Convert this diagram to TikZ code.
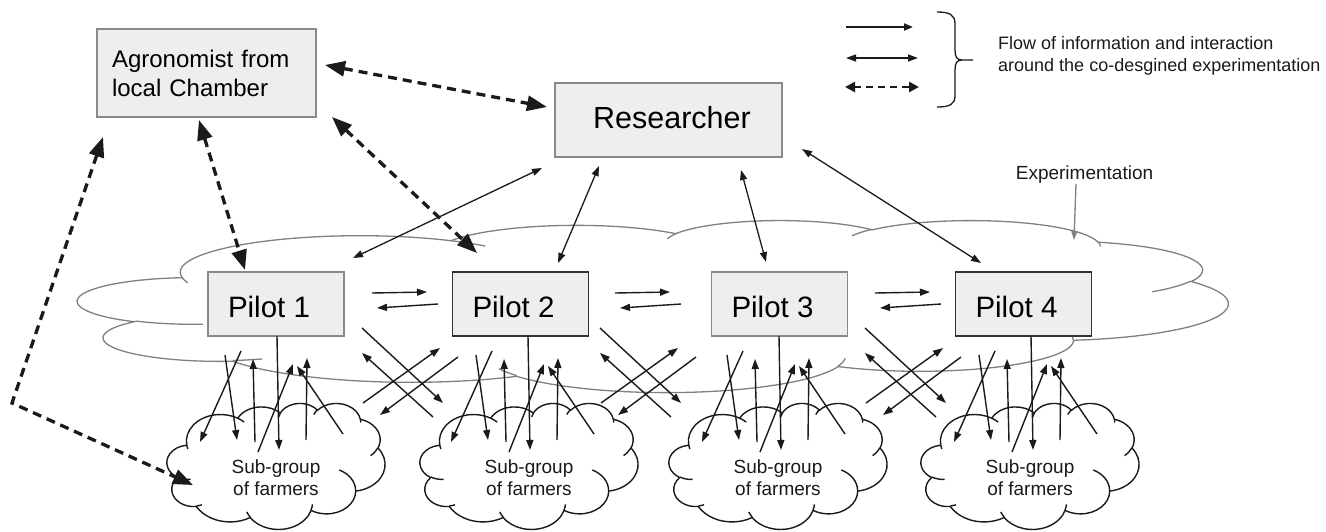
\documentclass[tikz,border=0pt]{standalone}
\usepackage{fontspec}
\setmainfont{Liberation Sans}
\usetikzlibrary{arrows.meta}
\definecolor{boxfill}{HTML}{EEEEEE}
\definecolor{boxline}{HTML}{8A8A8A}
\definecolor{boxdark}{HTML}{333333}
\definecolor{cloudgray}{HTML}{808080}
\definecolor{ink}{HTML}{1A1A1A}
% arcs of the cloud outline (angles of the drawing converted to parametric angles)
\newcommand\mkcarc[5]{%
  \pgfmathsetmacro\cA{#4}%
  \pgfmathsetmacro\cB{#4+#5}%
  \pgfmathsetmacro\cS{atan2(#2*sin(\cA),#3*cos(\cA))}%
  \pgfmathsetmacro\cE{atan2(#2*sin(\cB),#3*cos(\cB))}%
  \pgfmathsetmacro\cE{\cE<\cS ? \cE+360 : \cE}%
  \tikzset{#1/.estyle={start angle=\cS, end angle=\cE, x radius=#2, y radius=#3}}%
}
\mkcarc{cA1}{6.753}{9.190}{-190.4875}{123.7805}
\mkcarc{cA2}{5.333}{7.267}{-144.1024}{89.9452}
\mkcarc{cA3}{4.365}{5.945}{-145.8079}{99.7230}
\mkcarc{cA4}{4.857}{6.595}{-130.9861}{117.2417}
\mkcarc{cA5}{5.333}{7.273}{-78.7089}{109.0269}
\mkcarc{cA6}{6.775}{9.220}{-46.2673}{130.2690}
\mkcarc{cA7}{5.785}{7.867}{0.6250}{114.0333}
\mkcarc{cA8}{6.752}{9.215}{22.4516}{115.1726}
\mkcarc{cA9}{7.720}{10.543}{66.2426}{75.7110}
\mkcarc{cA10}{4.360}{5.918}{-274.9421}{146.7356}
\mkcarc{cA11}{4.345}{5.945}{-246.8285}{152.5189}
\mkcarc{cB1}{4.345}{5.945}{86.742}{26.4295}
\mkcarc{cB2}{4.360}{5.918}{73.6105}{11.4475}
\mkcarc{cB3}{6.752}{9.215}{137.6242}{14.0811}
\mkcarc{cB4}{6.752}{9.215}{6.4533}{15.9984}
\mkcarc{cB5}{5.785}{7.867}{-70.2924}{70.9174}
\mkcarc{cB6}{5.333}{7.273}{30.3180}{27.7515}
\mkcarc{cB7}{4.857}{6.595}{-13.7443}{14.8589}
\mkcarc{cB8}{4.857}{6.595}{-149.1815}{18.1954}
\mkcarc{cB9}{4.365}{5.945}{-163.4943}{17.6864}
\mkcarc{cB10}{6.753}{9.190}{-66.7070}{12.3194}
\mkcarc{cB11}{6.753}{9.190}{157.6544}{11.8582}
\newcommand\cloudmain{(3.9,14.37) arc[cA1] arc[cA2] arc[cA3] arc[cA4] arc[cA5] arc[cA6] arc[cA7] arc[cA8] arc[cA9] arc[cA10] arc[cA11] -- cycle}
\newcommand\cloudinner{(4.693,26.177) arc[cB1] (6.928,34.899) arc[cB2] (16.478,39.090) arc[cB3] (28.827,34.751) arc[cB4] (34.129,22.954) arc[cB5] (41.798,15.354) arc[cB6] (38.324,5.426) arc[cB7] (29.078,3.952) arc[cB8] (22.141,4.720) arc[cB9] (14.000,5.192) arc[cB10] (4.127,15.789) arc[cB11]}
\newcommand\linkpts[6]{\coordinate (#1-s) at (#2,#3); \coordinate (#1-e) at (#4,#5); \draw[#6] (#1-s) -- (#1-e);}
\tikzset{
  box/.style={draw=boxline, fill=boxfill, line width=1.6pt, inner sep=0pt},
  darkbox/.style={box, draw=boxdark},
  pilot/.style={minimum width=136pt, minimum height=64pt, text height=26pt, text depth=0pt,
                font=\fontsize{29.5}{34}\selectfont},
  flow/.style={draw=ink, line width=1.3pt, {Triangle[length=10pt,width=7pt]}-{Triangle[length=10pt,width=7pt]}},
  oneway/.style={draw=ink, line width=1.4pt, -{Triangle[length=10pt,width=7pt]}},
  dashflow/.style={draw=ink, line width=3.3pt, dash pattern=on 9pt off 6pt, {Triangle[length=20pt,width=15pt]}-{Triangle[length=20pt,width=15pt]}},
  sgtext/.style={font=\fontsize{19}{22}\selectfont, align=center, text=ink},
  cloudbig/.style={draw=cloudgray, line width=1.3pt},
  cloudsmall/.style={draw=ink, line width=1.4pt},
}
\begin{document}
\begin{tikzpicture}[x=1pt,y=-1pt]
\useasboundingbox (0,0) rectangle (1326,531);
% big cloud: experimentation
\begin{scope}[shift={(78,220)}, x=26.62pt, y=-3.981pt]
  \path[cloudbig, fill=white] \cloudmain;
  \path[cloudbig] \cloudinner;
\end{scope}
% sub-group clouds
\foreach \cx in {167,420,669,921}{
  \begin{scope}[shift={(\cx,403)}, x=5.046pt, y=-2.917pt]
    \path[cloudsmall, fill=white] \cloudmain;
    \path[cloudsmall] \cloudinner;
  \end{scope}}
\node[sgtext] (sg1) at (276,478) {Sub-group\\of farmers};
\node[sgtext] (sg2) at (529,478) {Sub-group\\of farmers};
\node[sgtext] (sg3) at (778,478) {Sub-group\\of farmers};
\node[sgtext] (sg4) at (1030,478) {Sub-group\\of farmers};
% boxes
\node[box, minimum width=219pt, minimum height=88pt, text width=189pt, align=left,
      font=\fontsize{24}{29}\selectfont] (agr) at (206.5,73) {Agronomist from\\local Chamber};
\node[box, minimum width=227pt, minimum height=74pt, text height=16pt, text depth=0pt,
      font=\fontsize{30.5}{36}\selectfont] (res) at (668.5,120) {\hspace*{7pt}Researcher};
\node[box, pilot] (p1) at (276,304) {\hspace*{-14pt}Pilot 1};
\node[darkbox, pilot] (p2) at (520.5,304) {\hspace*{-14pt}Pilot 2};
\node[box, pilot] (p3) at (779.5,304) {\hspace*{-14pt}Pilot 3};
\node[darkbox, pilot] (p4) at (1023.5,304) {\hspace*{-14pt}Pilot 4};
% labels
\node[font=\fontsize{19}{22}\selectfont, anchor=base, text=ink] (explabel) at (1084.5,179) {Experimentation};
\node[font=\fontsize{18}{22}\selectfont, anchor=north west, align=left, inner sep=0pt, text=ink]
      (legtext) at (998,36) {Flow of information and interaction\\around the co-desgined experimentation};
% experimentation pointer
\coordinate (expa) at (1076,184);
\coordinate (expb) at (1074,240);
\draw[draw=cloudgray, line width=1.3pt, -{Triangle[length=9pt,width=6pt]}] (expa) -- (expb);
% legend
\linkpts{leg1}{846}{27}{913}{27}{draw=ink, line width=2pt, -{Triangle[length=9pt,width=7pt]}}
\linkpts{leg2}{846}{58}{918}{58}{flow}
\linkpts{leg3}{845}{87}{919}{87}{draw=ink, line width=2.5pt, dash pattern=on 7pt off 5pt, {Triangle[length=10pt,width=10pt]}-{Triangle[length=10pt,width=10pt]}}
\draw[ink, line width=1.3pt] (937,12) .. controls (950,12) and (955,15) .. (955,24) -- (955,50)
  .. controls (955,57) and (957,60) .. (962,60) -- (973,60)
  (962,60) .. controls (957,60) and (955,63) .. (955,70) -- (955,96)
  .. controls (955,104) and (950,107) .. (937,107);
% dashed flows from the agronomist
\linkpts{d1}{325}{65}{547}{107}{dashflow}
\linkpts{d2}{199}{120}{245}{270}{dashflow}
\linkpts{d3}{332}{117}{477}{253}{dashflow}
\coordinate (d4-s) at (103,137);
\coordinate (d4-m) at (12,403);
\coordinate (d4-e) at (193,485);
\draw[dashflow] (d4-s) -- (d4-m) -- (d4-e);
% researcher flows
\linkpts{r1}{542}{168}{353}{258}{flow}
\linkpts{r2}{599}{166}{558}{263}{flow}
\linkpts{r3}{741}{170}{766}{262}{flow}
\linkpts{r4}{802}{149}{981}{263}{flow}
% pilot to pilot
\foreach \i/\dx in {1/0,2/243,3/503}{
  \linkpts{h\i r}{372+\dx}{293}{427+\dx}{292}{oneway}
  \linkpts{h\i l}{438+\dx}{304}{377+\dx}{308}{oneway}}
% crossing flows between pilots and neighbouring sub-groups
\foreach \i/\dx in {1/0,2/238,3/503}{
  \linkpts{x\i a}{362+\dx}{328}{443+\dx}{403}{oneway}
  \linkpts{x\i b}{433+\dx}{417}{362+\dx}{353}{oneway}
  \linkpts{x\i c}{363+\dx}{403}{440+\dx}{348}{oneway}
  \linkpts{x\i d}{458+\dx}{357}{380+\dx}{415}{oneway}}
% pilot and own sub-group
\foreach \i/\dx in {1/0,2/251,3/502,4/754}{
  \linkpts{g\i v}{277+\dx}{336}{279+\dx}{450}{oneway}
  \linkpts{g\i a}{225+\dx}{355}{237+\dx}{440}{oneway}
  \linkpts{g\i b}{241+\dx}{351}{200+\dx}{442}{oneway}
  \linkpts{g\i c}{255+\dx}{442}{253+\dx}{359}{oneway}
  \linkpts{g\i d}{258+\dx}{452}{293+\dx}{364}{oneway}
  \linkpts{g\i e}{306+\dx}{440}{307+\dx}{358}{oneway}
  \linkpts{g\i f}{343+\dx}{434}{297+\dx}{366}{oneway}}
\end{tikzpicture}
\end{document}
